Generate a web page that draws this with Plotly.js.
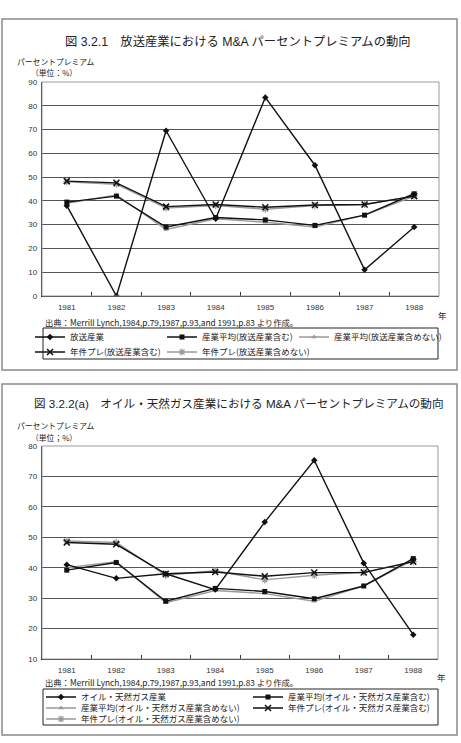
<!DOCTYPE html>
<html>
<head>
<meta charset="utf-8">
<script src="https://cdn.plot.ly/plotly-3.0.1.min.js"></script>
<style>
  html, body { margin: 0; padding: 0; background: #fff; }
  #chart { width: 461px; height: 743px; }
</style>
</head>
<body>
<div id="chart"></div>
<script>
// Categories (years)
const years = ['1981', '1982', '1983', '1984', '1985', '1986', '1987', '1988'];

// 図3.2.1 放送産業 (percent premium, %)
const broadcast           = [38, 0, 69.5, 32.5, 83.5, 55, 11, 29];
const avgInclBroadcast    = [39.5, 42, 29, 33, 32, 29.7, 34, 43];
const avgExclBroadcast    = [39, 42.5, 28, 32.5, 31, 29, 34, 42];
const yearlyInclBroadcast = [48.3, 47.6, 37.6, 38.5, 37.3, 38.3, 38.5, 42];
const yearlyExclBroadcast = [48, 47, 37, 38, 36.5, 38, 38.5, 42];

// 図3.2.2(a) オイル・天然ガス産業 (percent premium, %)
const oilGas        = [41, 36.5, 38, 32.8, 55, 75.3, 41.5, 18];
const avgInclOil    = [39.2, 41.7, 29, 33.2, 32.2, 29.8, 34, 43];
const avgExclOil    = [40, 42, 28.5, 32.5, 31.5, 29, 34, 42.5];
const yearlyInclOil = [48.3, 47.7, 38, 38.6, 37.2, 38.4, 38.4, 42];
const yearlyExclOil = [48.8, 48.3, 37.5, 39, 36, 37.5, 38.5, 42];

// Axis ticks
const ticks1 = [0, 10, 20, 30, 40, 50, 60, 70, 80, 90];
const ticks2 = [10, 20, 30, 40, 50, 60, 70, 80];

const W = 461, H = 743;
const px = x => x / W;
const py = y => 1 - y / H;

const FONT = 'Liberation Sans, Arial, "Noto Sans CJK JP", sans-serif';
const JFONT = '"Noto Sans CJK JP", "Liberation Sans", sans-serif';
const BLACK = '#111';
const GRAY = '#9a9a9a';

// series styles
const styles = {
  main:   { line: { color: BLACK, width: 1.4 }, marker: { symbol: 'diamond', size: 5, color: BLACK } },
  avgIn:  { line: { color: BLACK, width: 1.4 }, marker: { symbol: 'square', size: 5, color: BLACK } },
  avgEx:  { line: { color: GRAY, width: 1.4 }, marker: { symbol: 'triangle-up', size: 5, color: GRAY } },
  yearIn: { line: { color: BLACK, width: 1.4 }, marker: { symbol: 'x-thin', size: 6, color: BLACK, line: { color: BLACK, width: 1.5 } } },
  yearEx: { line: { color: GRAY, width: 1.4 }, marker: { symbol: 'asterisk', size: 6, color: GRAY, line: { color: GRAY, width: 1.2 } } }
};

function series(name, y, style, axis, legendId) {
  return Object.assign({
    type: 'scatter', mode: 'lines+markers', name: name,
    x: years, y: y,
    xaxis: axis[0], yaxis: axis[1],
    legend: legendId, showlegend: true,
    hoverinfo: 'skip'
  }, JSON.parse(JSON.stringify(style)));
}

const A1 = ['x', 'y'], A2 = ['x2', 'y2'];

// gray series first so the black lines sit on top
const data = [
  series('産業平均(放送産業含めない)', avgExclBroadcast, styles.avgEx, A1, 'legend3'),
  series('年件プレ(放送産業含めない)', yearlyExclBroadcast, styles.yearEx, A1, 'legend5'),
  series('放送産業', broadcast, styles.main, A1, 'legend'),
  series('産業平均(放送産業含む)', avgInclBroadcast, styles.avgIn, A1, 'legend2'),
  series('年件プレ(放送産業含む)', yearlyInclBroadcast, styles.yearIn, A1, 'legend4'),

  series('産業平均(オイル・天然ガス産業含めない)', avgExclOil, styles.avgEx, A2, 'legend8'),
  series('年件プレ(オイル・天然ガス産業含めない)', yearlyExclOil, styles.yearEx, A2, 'legend10'),
  series('オイル・天然ガス産業', oilGas, styles.main, A2, 'legend6'),
  series('産業平均(オイル・天然ガス産業含む)', avgInclOil, styles.avgIn, A2, 'legend7'),
  series('年件プレ(オイル・天然ガス産業含む)', yearlyInclOil, styles.yearIn, A2, 'legend9')
];

function xAxis(x0, x1, anchor) {
  return {
    domain: [px(x0), px(x1)], anchor: anchor, type: 'category',
    range: [-0.5, years.length - 0.5],
    showgrid: false, zeroline: false,
    showline: true, linecolor: '#222', linewidth: 1.2,
    ticks: 'inside', tickson: 'boundaries', ticklen: 4, tickcolor: '#333', tickwidth: 1,
    tickfont: { family: FONT, size: 8, color: '#333' },
    ticklabelstandoff: 3, fixedrange: true
  };
}
function yAxis(y0, y1, anchor, tv, rng) {
  return {
    domain: [py(y1), py(y0)], anchor: anchor,
    range: rng, tickvals: tv, ticktext: tv.map(String),
    showgrid: true, gridcolor: '#555', gridwidth: 1,
    zeroline: false, showline: true, linecolor: '#222', linewidth: 1.2,
    ticks: '', tickfont: { family: FONT, size: 8, color: '#333' },
    ticklabelstandoff: 2, fixedrange: true
  };
}

function legendAt(textX, rowY) {
  return {
    x: px(textX - 40), y: py(rowY), xanchor: 'left', yanchor: 'middle',
    orientation: 'v', bgcolor: 'rgba(0,0,0,0)', borderwidth: 0,
    itemwidth: 30, font: { family: JFONT, size: 8.5, color: '#222' },
    itemclick: false, itemdoubleclick: false
  };
}

function note(text, x, y, size, anchor, family) {
  return {
    text: text, xref: 'paper', yref: 'paper', x: px(x), y: py(y),
    xanchor: anchor || 'left', yanchor: 'middle', showarrow: false,
    font: { family: family || JFONT, size: size, color: '#222' }
  };
}

function box(x0, y0, x1, y1, color, width, fill, layer) {
  return {
    type: 'rect', xref: 'paper', yref: 'paper',
    x0: px(x0), x1: px(x1), y0: py(y1), y1: py(y0),
    line: { color: color, width: width }, fillcolor: fill || 'rgba(0,0,0,0)',
    layer: layer || 'below'
  };
}

const layout = {
  width: W, height: H,
  margin: { l: 0, r: 0, t: 0, b: 0 },
  paper_bgcolor: '#fff', plot_bgcolor: '#f4f4f4',
  showlegend: true,
  xaxis: xAxis(42, 439, 'y'),
  yaxis: yAxis(82, 296, 'x', ticks1, [0, 90]),
  xaxis2: xAxis(42, 438, 'y2'),
  yaxis2: yAxis(446, 659, 'x2', ticks2, [10, 80]),

  legend:   legendAt(70, 337),
  legend2:  legendAt(202, 337),
  legend3:  legendAt(334, 337),
  legend4:  legendAt(70, 352),
  legend5:  legendAt(202, 352),
  legend6:  legendAt(81, 697),
  legend7:  legendAt(288, 697),
  legend8:  legendAt(81, 708),
  legend9:  legendAt(288, 708),
  legend10: legendAt(81, 719),

  shapes: [
    box(2, 19, 457, 370, '#8a8a8a', 1.5, '#fff'),
    box(2, 384, 457, 735, '#8a8a8a', 1.5, '#fff'),
    box(42, 82, 439, 296, '#9a9a9a', 1, null, 'above'),
    box(42, 446, 438, 659, '#9a9a9a', 1, null, 'above'),
    box(43, 328, 438, 359, '#222', 1, '#fff', 'above'),
    box(43, 689, 438, 725, '#222', 1, '#fff', 'above')
  ],

  annotations: [
    note('図 3.2.1\u3000放送産業における M&amp;A パーセントプレミアムの動向', 238, 41, 12.3, 'center', FONT),
    note('パーセントプレミアム', 15, 62, 7.8, 'left'),
    note('（単位：%）', 29, 73, 7.8, 'left'),
    note('出典：Merrill Lynch,1984,p.79,1987,p.93,and 1991,p.83 より作成。', 43, 322, 8.3, 'left'),
    note('年', 442, 315, 8.5, 'center'),

    note('図 3.2.2(a)\u3000オイル・天然ガス産業における M&amp;A パーセントプレミアムの動向', 238.5, 403, 11.6, 'center', FONT),
    note('パーセントプレミアム', 15, 425, 7.8, 'left'),
    note('（単位；%）', 29, 437, 7.8, 'left'),
    note('出典：Merrill Lynch,1984,p.79,1987,p.93,and 1991,p.83 より作成。', 43, 682, 8.3, 'left'),
    note('年', 441, 677, 8.5, 'center')
  ]
};

Plotly.newPlot('chart', data, layout, { staticPlot: true, displayModeBar: false });
</script>
</body>
</html>
